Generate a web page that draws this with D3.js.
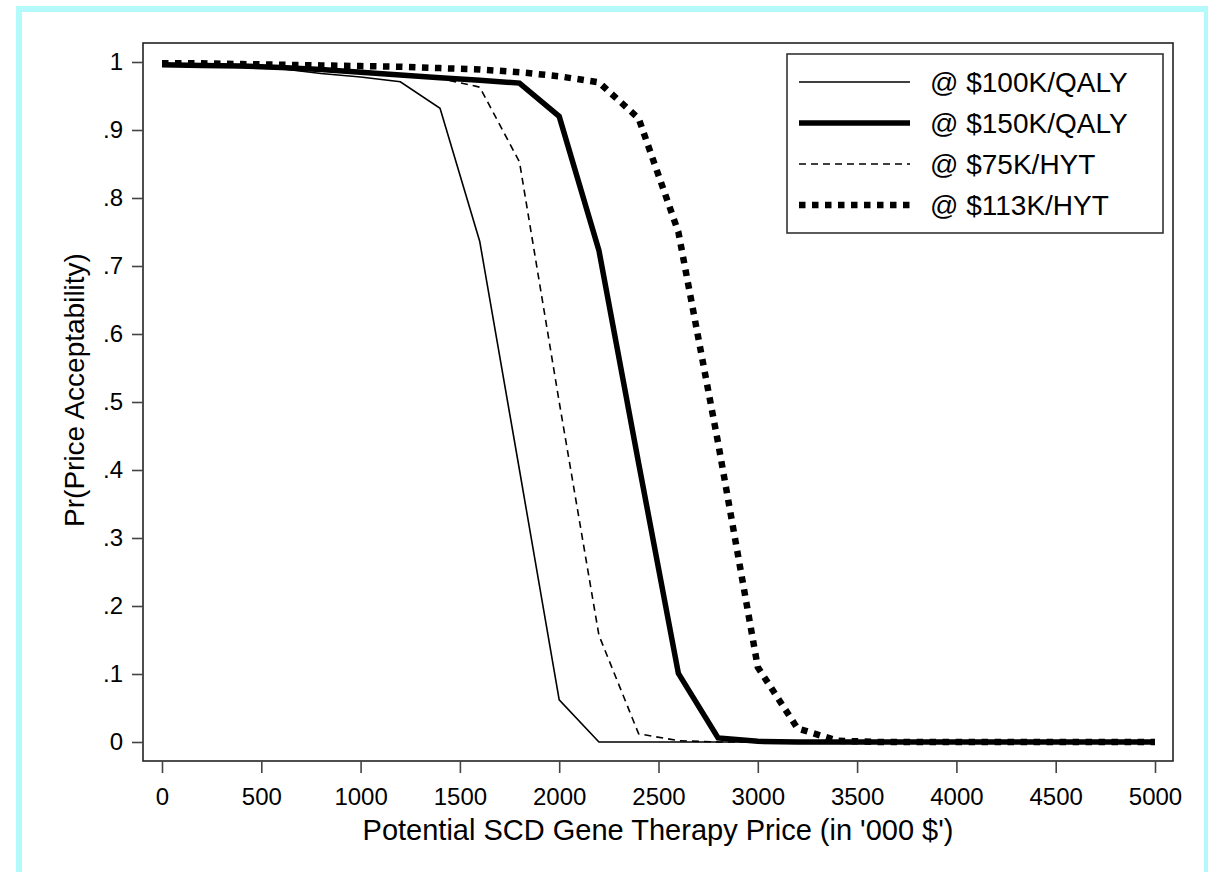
<!DOCTYPE html>
<html>
<head>
<meta charset="utf-8">
<script src="https://cdn.jsdelivr.net/npm/d3@7"></script>
<style>
  html, body { margin: 0; padding: 0; background: #ffffff; }
  svg { display: block; }
  text { font-family: "Liberation Sans", Arial, Helvetica, sans-serif; fill: #000; }
</style>
</head>
<body>
<svg id="chart" width="1208" height="872"></svg>
<script>
// ---- data ----
const prices = [0,200,400,600,800,1000,1200,1400,1600,1800,2000,2200,2400,2600,2800,3000,3200,3400,3600,3800,4000,4200,4400,4600,4800,5000];
const qaly100 = [0.996,0.994,0.992,0.990,0.983,0.978,0.971,0.932,0.736,0.400,0.062,0,0,0,0,0,0,0,0,0,0,0,0,0,0,0];
const qaly150 = [0.996,0.995,0.994,0.992,0.989,0.985,0.981,0.977,0.973,0.969,0.920,0.723,0.410,0.101,0.006,0.001,0,0,0,0,0,0,0,0,0,0];
const hyt75   = [0.997,0.996,0.995,0.993,0.990,0.987,0.983,0.976,0.963,0.853,0.500,0.157,0.012,0.002,0,0,0,0,0,0,0,0,0,0,0,0];
const hyt113  = [0.998,0.998,0.997,0.996,0.995,0.994,0.993,0.991,0.989,0.985,0.979,0.970,0.917,0.750,0.440,0.110,0.020,0.002,0,0,0,0,0,0,0,0];
const seriesNames = ["@ $100K/QALY", "@ $150K/QALY", "@ $75K/HYT", "@ $113K/HYT"];
const xTicks = [0,500,1000,1500,2000,2500,3000,3500,4000,4500,5000];
const yTicks = [0,0.1,0.2,0.3,0.4,0.5,0.6,0.7,0.8,0.9,1];
const yTickLabels = ["0",".1",".2",".3",".4",".5",".6",".7",".8",".9","1"];
const xTitle = "Potential SCD Gene Therapy Price (in '000 $')";
const yTitle = "Pr(Price Acceptability)";

// ---- styles ----
const styles = [
  { width: 1.6, dash: null },
  { width: 5.5, dash: null },
  { width: 1.6, dash: "7,5" },
  { width: 6.5, dash: "6.5,6.5" }
];

const svg = d3.select("#chart");

// outer cyan frame
svg.append("rect").attr("x", 19).attr("y", 9).attr("width", 1188).attr("height", 900)
  .attr("fill", "none").attr("stroke", "#b4fafa").attr("stroke-width", 6);

const plot = { left: 143, top: 43, right: 1173, bottom: 761 };
const x = d3.scaleLinear().domain([0, 5000]).range([162, 1155]);
const y = d3.scaleLinear().domain([0, 1]).range([742, 62]);

// plot frame
svg.append("rect").attr("x", plot.left).attr("y", plot.top)
  .attr("width", plot.right - plot.left).attr("height", plot.bottom - plot.top)
  .attr("fill", "none").attr("stroke", "#222").attr("stroke-width", 1.6);

// x axis
const xAxis = d3.axisBottom(x).tickValues(xTicks).tickSize(12).tickPadding(15).tickFormat(d3.format("d"));
const gx = svg.append("g").attr("transform", `translate(0,${plot.bottom})`).call(xAxis);
gx.select(".domain").remove();
gx.selectAll(".tick line").attr("stroke", "#444").attr("stroke-width", 1.6);
gx.selectAll(".tick text").attr("font-size", 24).attr("font-family", '"Liberation Sans", Arial, sans-serif').attr("fill", "#000");

// y axis
const yAxis = d3.axisLeft(y).tickValues(yTicks).tickSize(11).tickPadding(9).tickFormat((d, i) => yTickLabels[i]);
const gy = svg.append("g").attr("transform", `translate(${plot.left},0)`).call(yAxis);
gy.select(".domain").remove();
gy.selectAll(".tick line").attr("stroke", "#444").attr("stroke-width", 1.6);
gy.selectAll(".tick text").attr("font-size", 24).attr("font-family", '"Liberation Sans", Arial, sans-serif').attr("fill", "#000");

// axis titles
svg.append("text").attr("x", 658).attr("y", 840).attr("text-anchor", "middle")
  .attr("font-size", 29).text(xTitle);
svg.append("text").attr("transform", "translate(84,390) rotate(-90)").attr("text-anchor", "middle")
  .attr("font-size", 28).text(yTitle);

// lines
const allSeries = [qaly100, qaly150, hyt75, hyt113];
const line = d3.line().x(d => x(d[0])).y(d => y(d[1]));
allSeries.forEach((vals, i) => {
  const pts = prices.map((p, j) => [p, vals[j]]);
  const path = svg.append("path").datum(pts).attr("d", line)
    .attr("fill", "none").attr("stroke", "#000")
    .attr("stroke-width", styles[i].width)
    .attr("stroke-linejoin", "miter");
  if (styles[i].dash) path.attr("stroke-dasharray", styles[i].dash);
});

// legend
const lg = svg.append("g");
lg.append("rect").attr("x", 787).attr("y", 54).attr("width", 376).attr("height", 179)
  .attr("fill", "#fff").attr("stroke", "#333").attr("stroke-width", 1.6);
const rowY = [82, 123, 164, 205];
seriesNames.forEach((name, i) => {
  const l = lg.append("line").attr("x1", 799).attr("x2", 910).attr("y1", rowY[i]).attr("y2", rowY[i])
    .attr("stroke", "#000").attr("stroke-width", styles[i].width);
  if (styles[i].dash) l.attr("stroke-dasharray", styles[i].dash);
  lg.append("text").attr("x", 930).attr("y", rowY[i]).attr("dy", "0.36em")
    .attr("font-size", 28).text(name);
});
</script>
</body>
</html>
